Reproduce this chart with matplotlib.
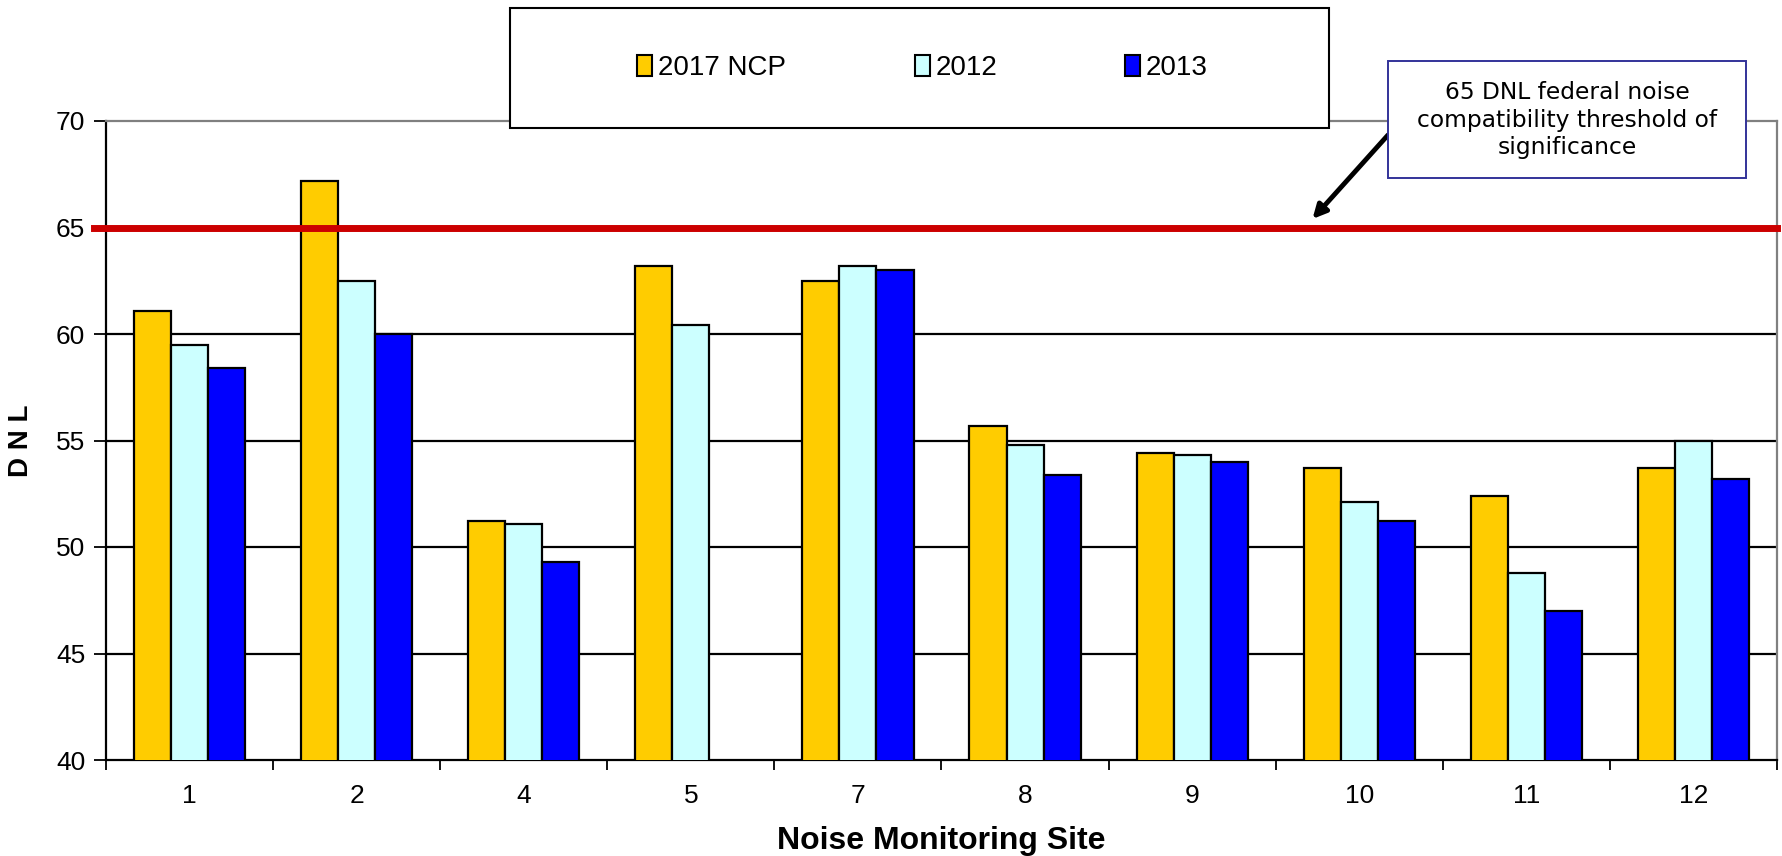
import numpy as np
import matplotlib
matplotlib.use("Agg")
import matplotlib.pyplot as plt
from matplotlib.patches import Rectangle, Patch

sites = ["1", "2", "4", "5", "7", "8", "9", "10", "11", "12"]
ncp_2017 = [61.1, 67.2, 51.2, 63.2, 62.5, 55.7, 54.4, 53.7, 52.4, 53.7]
dnl_2012 = [59.5, 62.5, 51.1, 60.4, 63.2, 54.8, 54.3, 52.1, 48.8, 55.0]
dnl_2013 = [58.4, 60.0, 49.3, np.nan, 63.0, 53.4, 54.0, 51.2, 47.0, 53.2]
series_names = ["2017 NCP", "2012", "2013"]
series_colors = ["#FFCC00", "#CCFFFF", "#0000FF"]
threshold = 65
note = "65 DNL federal noise\ncompatibility threshold of\nsignificance"

plt.rcParams['font.family'] = ['Liberation Sans', 'DejaVu Sans']

W, H = 1783, 856
fig = plt.figure(figsize=(W / 100, H / 100), dpi=100)
ax = fig.add_axes([106 / W, 1 - 760 / H, (1777 - 106) / W, (760 - 121) / H])

x = np.arange(len(sites))
bw = 0.222
for i, (vals, col) in enumerate(zip([ncp_2017, dnl_2012, dnl_2013], series_colors)):
    ax.bar(x + (i - 1) * bw, vals, width=bw, bottom=0, color=col,
           edgecolor="black", linewidth=1.6, zorder=3)

ax.set_ylim(40, 70)
ax.set_xlim(-0.5, len(sites) - 0.5)
ax.set_yticks(range(40, 71, 5))
for v in range(45, 70, 5):
    ax.axhline(v, color="black", lw=1.6, zorder=1)
ax.axhline(threshold, color="#CC0000", lw=5, zorder=4, xmin=-0.007, clip_on=False)

ax.spines['left'].set_linewidth(1.6)
ax.spines['bottom'].set_linewidth(1.6)
ax.spines['top'].set_color("#808080")
ax.spines['right'].set_color("#808080")
ax.spines['top'].set_linewidth(1.6)
ax.spines['right'].set_linewidth(1.6)

ax.set_xticks(x)
ax.set_xticklabels(sites, fontsize=19)
ax.tick_params(axis='x', length=0, pad=17)
ax.set_xticks(np.arange(-0.5, len(sites), 1), minor=True)
ax.tick_params(axis='x', which='minor', length=7, width=1.3, direction='out')
ax.tick_params(axis='y', length=9, width=1.3, labelsize=19, pad=6)

ax.set_ylabel("D N L", fontsize=20, fontweight='bold', labelpad=16)
ax.set_xlabel("Noise Monitoring Site", fontsize=23, fontweight='bold', labelpad=13)

# legend box across the top
fig.patches.append(Rectangle((510 / W, 1 - 128 / H), (1329 - 510) / W, 120 / H,
                             transform=fig.transFigure, facecolor="white",
                             edgecolor="black", lw=1.5, zorder=4))
for name, col, px in zip(series_names, series_colors, [637, 915, 1125]):
    fig.legend(handles=[Patch(facecolor=col, edgecolor="black", lw=1.5)], labels=[name],
               loc="center left", bbox_to_anchor=(px / W, 1 - 68 / H), frameon=False,
               fontsize=20, handlelength=0.55, handleheight=0.8, handletextpad=0.2,
               borderpad=0, borderaxespad=0).set_zorder(6)

# threshold note with arrow
fig.patches.append(Rectangle((1388 / W, 1 - 178 / H), (1746 - 1388) / W, 117 / H,
                             transform=fig.transFigure, facecolor="white",
                             edgecolor="#333399", lw=1.4, zorder=6))
fig.text(1567 / W, 1 - 120 / H, note, ha="center", va="center",
         fontsize=16.8, family="DejaVu Sans", linespacing=1.25, zorder=7)
ax.annotate("", xy=(6.72, threshold + 0.4), xycoords="data",
            xytext=(1388 / W, 1 - 135 / H), textcoords="figure fraction",
            arrowprops=dict(arrowstyle="-|>", color="black", lw=3.5, mutation_scale=20,
                            shrinkA=0, shrinkB=0),
            zorder=6)

fig.savefig("out.png", dpi=100)
